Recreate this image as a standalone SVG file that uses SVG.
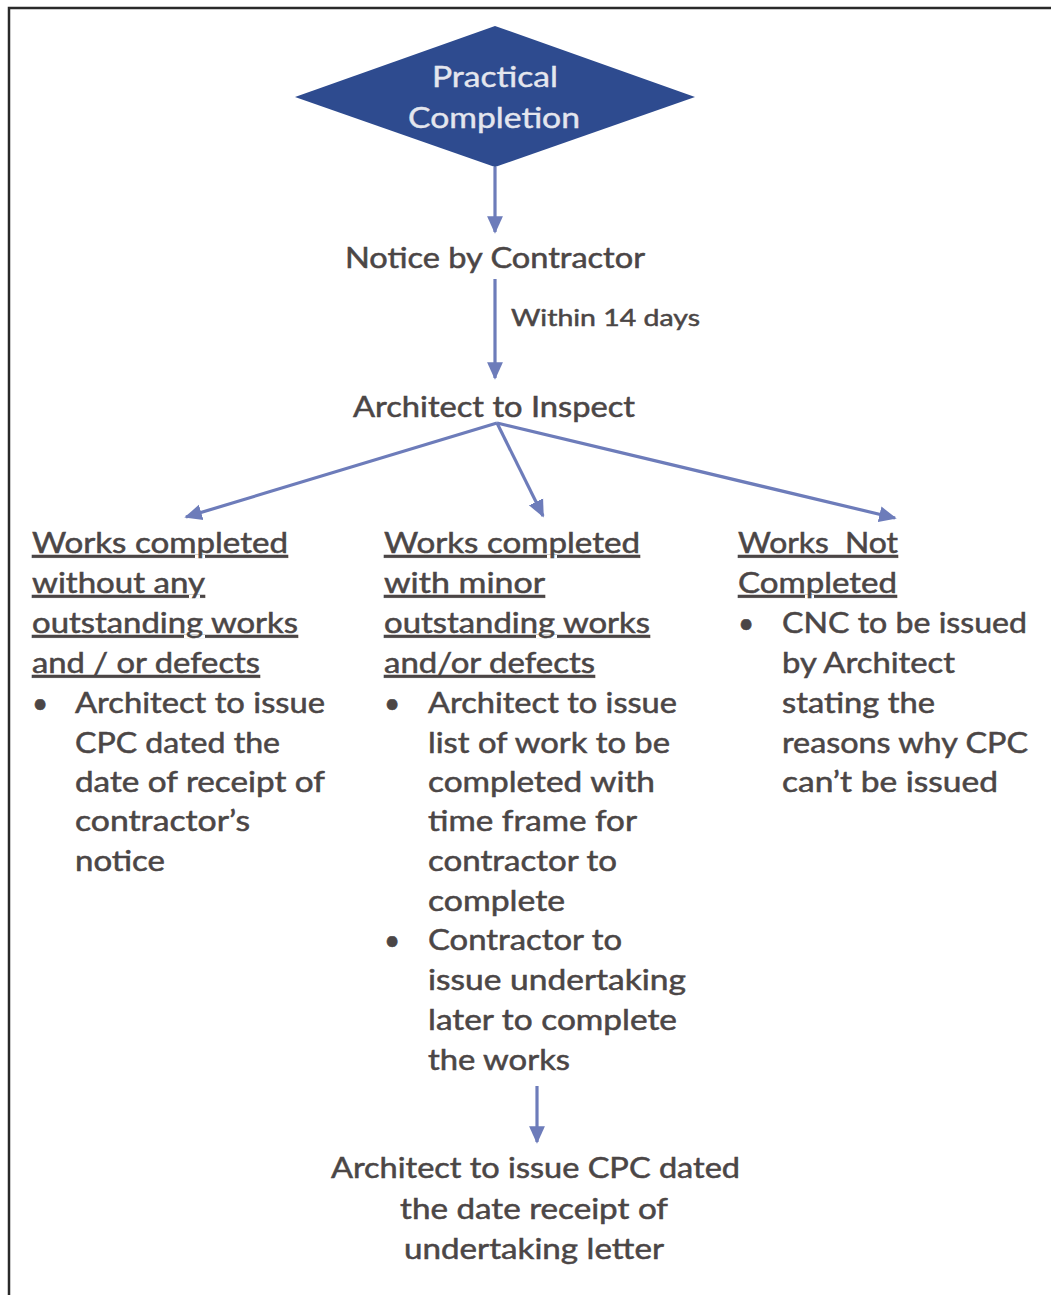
<svg xmlns="http://www.w3.org/2000/svg" width="1051" height="1295" viewBox="0 0 1051 1295">
<style>
.t{font-family:Lato,"Open Sans","Liberation Sans",sans-serif;font-size:28px;fill:#4b4646;stroke:#4b4646;stroke-width:0.5px;}
.h{text-decoration:underline;}
.w{fill:#e4e6ee;stroke:#e4e6ee;stroke-width:0.4px;font-size:28px;}
.s{font-size:24px;}
.ln{stroke:#6d7cba;stroke-width:3.2;fill:none;}
</style>
<defs>
<marker id="ah" viewBox="0 0 10 10" refX="9" refY="5" markerWidth="5.5" markerHeight="5.5" orient="auto" markerUnits="strokeWidth">
<path d="M0,0.5 L10,5 L0,9.5 z" fill="#6d7cba"/>
</marker>
</defs>
<rect width="1051" height="1295" fill="#ffffff"/>
<path d="M9,1295 L9,8 L1051,8" stroke="#2a2a2a" stroke-width="2.5" fill="none"/>

<g id="connectors">
<line class="ln" x1="495" y1="167" x2="495" y2="232" marker-end="url(#ah)"/>
<line class="ln" x1="495" y1="279" x2="495" y2="378" marker-end="url(#ah)"/>
<line class="ln" x1="497" y1="423" x2="186" y2="517" marker-end="url(#ah)"/>
<line class="ln" x1="497" y1="423" x2="543" y2="516" marker-end="url(#ah)"/>
<line class="ln" x1="497" y1="423" x2="895" y2="518" marker-end="url(#ah)"/>
<line class="ln" x1="537" y1="1086" x2="537" y2="1142" marker-end="url(#ah)"/>
<text class="t s" x="511" y="326" textLength="189" lengthAdjust="spacingAndGlyphs">Within 14 days</text>
</g>

<g id="practical-completion">
<polygon points="495,26 695,97 495,167 295,97" fill="#2e4b8f"/>
<text class="t w" x="432" y="87" textLength="126" lengthAdjust="spacingAndGlyphs">Practical</text>
<text class="t w" x="408" y="128" textLength="172" lengthAdjust="spacingAndGlyphs">Completion</text>
</g>

<g id="notice-by-contractor">
<text class="t" x="345" y="268" textLength="300" lengthAdjust="spacingAndGlyphs">Notice by Contractor</text>
</g>

<g id="architect-to-inspect">
<text class="t" x="353" y="417" textLength="282" lengthAdjust="spacingAndGlyphs">Architect to Inspect</text>
</g>

<g id="works-completed-no-outstanding">
<text class="t h" x="32" y="553" textLength="256" lengthAdjust="spacingAndGlyphs">Works completed</text>
<text class="t h" x="32" y="593" textLength="173" lengthAdjust="spacingAndGlyphs">without any</text>
<text class="t h" x="32" y="633" textLength="266" lengthAdjust="spacingAndGlyphs">outstanding works</text>
<text class="t h" x="32" y="673" textLength="228" lengthAdjust="spacingAndGlyphs">and / or defects</text>
<text class="t" x="32" y="713">•</text>
<text class="t" x="75" y="713" textLength="250" lengthAdjust="spacingAndGlyphs">Architect to issue</text>
<text class="t" x="75" y="753" textLength="205" lengthAdjust="spacingAndGlyphs">CPC dated the</text>
<text class="t" x="75" y="792" textLength="250" lengthAdjust="spacingAndGlyphs">date of receipt of</text>
<text class="t" x="75" y="831" textLength="175" lengthAdjust="spacingAndGlyphs">contractor’s</text>
<text class="t" x="75" y="871" textLength="90" lengthAdjust="spacingAndGlyphs">notice</text>
</g>

<g id="works-completed-minor-outstanding">
<text class="t h" x="384" y="553" textLength="256" lengthAdjust="spacingAndGlyphs">Works completed</text>
<text class="t h" x="384" y="593" textLength="161" lengthAdjust="spacingAndGlyphs">with minor</text>
<text class="t h" x="384" y="633" textLength="266" lengthAdjust="spacingAndGlyphs">outstanding works</text>
<text class="t h" x="384" y="673" textLength="211" lengthAdjust="spacingAndGlyphs">and/or defects</text>
<text class="t" x="384" y="713">•</text>
<text class="t" x="428" y="713" textLength="249" lengthAdjust="spacingAndGlyphs">Architect to issue</text>
<text class="t" x="428" y="753" textLength="242" lengthAdjust="spacingAndGlyphs">list of work to be</text>
<text class="t" x="428" y="792" textLength="227" lengthAdjust="spacingAndGlyphs">completed with</text>
<text class="t" x="428" y="831" textLength="209" lengthAdjust="spacingAndGlyphs">time frame for</text>
<text class="t" x="428" y="871" textLength="189" lengthAdjust="spacingAndGlyphs">contractor to</text>
<text class="t" x="428" y="911" textLength="137" lengthAdjust="spacingAndGlyphs">complete</text>
<text class="t" x="384" y="950">•</text>
<text class="t" x="428" y="950" textLength="194" lengthAdjust="spacingAndGlyphs">Contractor to</text>
<text class="t" x="428" y="990" textLength="258" lengthAdjust="spacingAndGlyphs">issue undertaking</text>
<text class="t" x="428" y="1030" textLength="249" lengthAdjust="spacingAndGlyphs">later to complete</text>
<text class="t" x="428" y="1070" textLength="142" lengthAdjust="spacingAndGlyphs">the works</text>
</g>

<g id="works-not-completed">
<text class="t h" x="738" y="553" textLength="160" lengthAdjust="spacingAndGlyphs" xml:space="preserve">Works  Not</text>
<text class="t h" x="738" y="593" textLength="159" lengthAdjust="spacingAndGlyphs">Completed</text>
<text class="t" x="738" y="633">•</text>
<text class="t" x="782" y="633" textLength="245" lengthAdjust="spacingAndGlyphs">CNC to be issued</text>
<text class="t" x="782" y="673" textLength="173" lengthAdjust="spacingAndGlyphs">by Architect</text>
<text class="t" x="782" y="713" textLength="153" lengthAdjust="spacingAndGlyphs">stating the</text>
<text class="t" x="782" y="753" textLength="246" lengthAdjust="spacingAndGlyphs">reasons why CPC</text>
<text class="t" x="782" y="792" textLength="216" lengthAdjust="spacingAndGlyphs">can’t be issued</text>
</g>

<g id="architect-issue-cpc">
<text class="t" x="331" y="1178" textLength="409" lengthAdjust="spacingAndGlyphs">Architect to issue CPC dated</text>
<text class="t" x="400" y="1219" textLength="268" lengthAdjust="spacingAndGlyphs">the date receipt of</text>
<text class="t" x="404" y="1259" textLength="260" lengthAdjust="spacingAndGlyphs">undertaking letter</text>
</g>
</svg>
